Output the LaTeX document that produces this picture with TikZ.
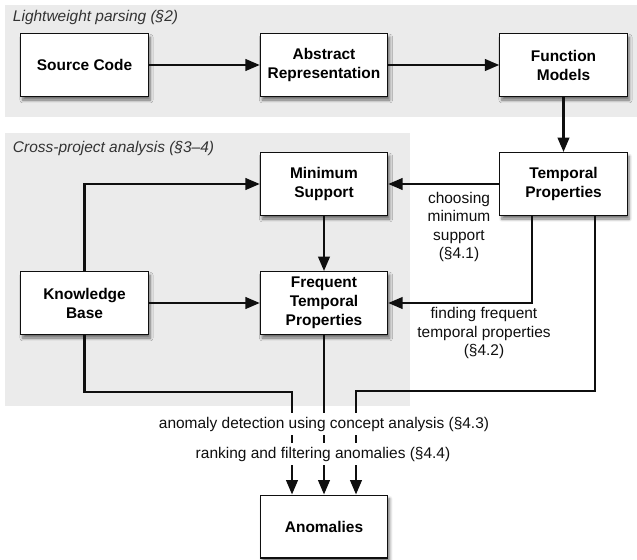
\documentclass[tikz,border=0pt]{standalone}
\usepackage{fontspec}
\setmainfont{Liberation Sans}
\usetikzlibrary{arrows.meta,shadows.blur}
\definecolor{panel}{RGB}{235,235,235}
\definecolor{ink}{RGB}{15,15,15}
\tikzset{
  >={Triangle[length=3.6mm,width=2.9mm]},
  stage/.style={draw=ink,fill=white,line width=0.85pt,minimum width=3.18cm,minimum height=1.57cm,
    align=center,font=\fontsize{11}{13.5}\selectfont\bfseries,
    blur shadow={shadow xshift=0.5mm,shadow yshift=-0.9mm,shadow blur steps=6,shadow opacity=55}},
  flow/.style={->,line width=1.6pt,draw=ink},
  tag/.style={font=\fontsize{11}{13.2}\selectfont,align=center,text=ink},
  band/.style={fill=panel},
  title/.style={font=\fontsize{11}{13}\selectfont\itshape,anchor=west,text=ink!85},
}
\begin{document}
\begin{tikzpicture}[x=0.025cm,y=-0.025cm]
  \useasboundingbox (0,0) rectangle (637,559);
  % panels
  \fill[band] (5,5) rectangle (637,117);
  \fill[band] (5,133) rectangle (410,406);
  \node[title] (lp) at (8,18) {Lightweight parsing (§2)};
  \node[title] (cp) at (8,148) {Cross-project analysis (§3–4)};
  % stages
  \node[stage] (src) at (84.5,65) {Source Code};
  \node[stage] (abs) at (324,65) {Abstract\\Representation};
  \node[stage] (fm) at (563.5,65) {Function\\Models};
  \node[stage] (ms) at (324,184) {Minimum\\Support};
  \node[stage] (tp) at (563.5,184) {Temporal\\Properties};
  \node[stage] (kb) at (84.5,303) {Knowledge\\Base};
  \node[stage] (ftp) at (324,303) {Frequent\\Temporal\\Properties};
  \node[stage] (ano) at (324,526.5) {Anomalies};
  % connectors
  \draw[flow] (src) -- (abs);
  \draw[flow] (abs) -- (fm);
  \draw[flow] (fm) -- (tp);
  \draw[flow] (tp) -- (ms);
  \draw[flow] (ms) -- (ftp);
  \draw[flow] (kb.north) |- (ms.west);
  \draw[flow] (kb) -- (ftp);
  \draw[flow] ([xshift=-0.79cm]tp.south) |- (ftp.east);
  \coordinate (jl) at (292,392);
  \coordinate (jr) at (356,391);
  \draw[flow] (kb.south) |- (jl) -- (jl |- ano.north);
  \draw[flow] (ftp) -- (ano);
  \draw[flow] ([xshift=0.79cm]tp.south) |- (jr) -- (jr |- ano.north);
  % labels
  \node[tag] (l41) at (459,227) {choosing\\minimum\\support\\(§4.1)};
  \node[tag] (l42) at (484,333) {finding frequent\\temporal properties\\(§4.2)};
  \node[tag,fill=white,inner sep=3pt] (l43) at (324,424) {anomaly detection using concept analysis (§4.3)};
  \node[tag,fill=white,inner sep=3pt] (l44) at (323,454) {ranking and filtering anomalies (§4.4)};
\end{tikzpicture}
\end{document}
